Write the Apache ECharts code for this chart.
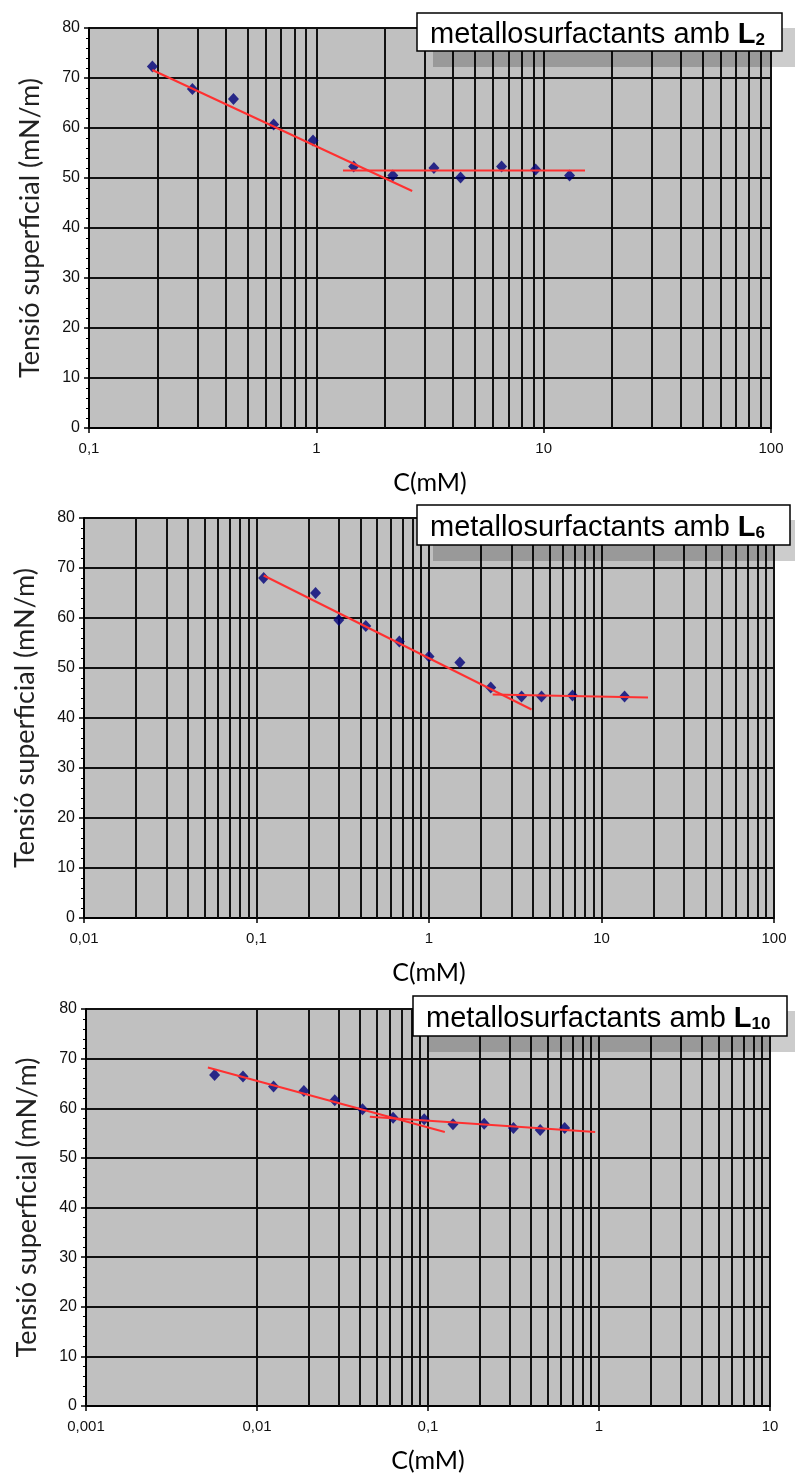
<!DOCTYPE html>
<html>
<head>
<meta charset="utf-8">
<script src="https://cdn.jsdelivr.net/npm/echarts@6/dist/echarts.min.js"></script>
<style>
  html, body { margin: 0; padding: 0; background: #ffffff; }
  #chart { width: 795px; height: 1474px; }
</style>
</head>
<body>
<div id="chart"></div>
<script>
// Surface tension vs. concentration for three metallosurfactant series

// --- L2 ---
const concL2 = [0.19, 0.285, 0.432, 0.649, 0.967, 1.46, 2.17, 3.29, 4.31, 6.53, 9.22, 13.0];
const tensL2 = [72.3, 67.8, 65.8, 60.7, 57.5, 52.3, 50.5, 52.0, 50.1, 52.3, 51.7, 50.5];
const fitL2Slope = [[0.19, 71.6], [2.64, 47.4]];
const fitL2Flat = [[1.31, 51.5], [15.2, 51.5]];
const xTicksL2 = ['0,1', '1', '10', '100'];

// --- L6 ---
const concL6 = [0.11, 0.22, 0.30, 0.43, 0.673, 1.0, 1.51, 2.28, 3.44, 4.49, 6.79, 13.6];
const tensL6 = [68.0, 65.0, 59.6, 58.4, 55.3, 52.3, 51.1, 46.1, 44.3, 44.3, 44.5, 44.3];
const fitL6Slope = [[0.11, 68.5], [3.93, 41.7]];
const fitL6Flat = [[2.34, 44.7], [18.6, 44.1]];
const xTicksL6 = ['0,01', '0,1', '1', '10', '100'];

// --- L10 ---
const concL10 = [0.00565, 0.00828, 0.0125, 0.0188, 0.0285, 0.0414, 0.0625, 0.095, 0.140, 0.213, 0.316, 0.453, 0.63];
const tensL10 = [66.7, 66.4, 64.4, 63.5, 61.6, 59.8, 58.1, 57.8, 56.8, 56.9, 56.0, 55.6, 56.0];
const fitL10Slope = [[0.00516, 68.2], [0.1254, 55.2]];
const fitL10Flat = [[0.0457, 58.3], [0.95, 55.2]];
const xTicksL10 = ['0,001', '0,01', '0,1', '1', '10'];

const yTicks = ['0', '10', '20', '30', '40', '50', '60', '70', '80'];
const panelTitles = ['2', '6', '10'];

const panels = [
  { conc: concL2, tens: tensL2, fits: [fitL2Slope, fitL2Flat], ticks: xTicksL2, min: 0.1, max: 100,
    grid: { left: 89, top: 28, width: 682, height: 400 },
    box: { x: 417, y: 13, w: 365, h: 38 } },
  { conc: concL6, tens: tensL6, fits: [fitL6Slope, fitL6Flat], ticks: xTicksL6, min: 0.01, max: 100,
    grid: { left: 84, top: 518, width: 690, height: 400 },
    box: { x: 417, y: 505, w: 373, h: 40 } },
  { conc: concL10, tens: tensL10, fits: [fitL10Slope, fitL10Flat], ticks: xTicksL10, min: 0.001, max: 10,
    grid: { left: 86, top: 1009, width: 684, height: 403 },
    box: { x: 413, y: 996, w: 374, h: 40 } }
];

// vertical log grid positions: 1..9 times each decade
function logGridValues(min, max) {
  const out = [];
  for (let d = Math.round(Math.log10(min)); d < Math.round(Math.log10(max)); d++) {
    for (let k = 1; k <= 9; k++) {
      const v = k * Math.pow(10, d);
      if (v > min * 1.0001) out.push(+v.toPrecision(6));
    }
  }
  out.push(max);
  return out;
}

const grids = [], xAxes = [], yAxes = [], series = [], graphics = [];
const lineColor = '#111111';

panels.forEach((p, i) => {
  grids.push(Object.assign({ show: true, backgroundColor: '#c0c0c0', borderWidth: 0 }, p.grid));

  xAxes.push({
    type: 'log', logBase: 10, gridIndex: i, min: p.min, max: p.max,
    splitNumber: p.ticks.length - 1,
    name: 'C(mM)', nameLocation: 'middle', nameGap: 42,
    nameTextStyle: { fontFamily: 'Lato', fontSize: 25, color: '#000' },
    axisLine: { show: true, onZero: false, lineStyle: { color: '#000', width: 2 } },
    axisTick: { show: true, length: 5, lineStyle: { color: '#000', width: 1.5 } },
    splitLine: { show: false },
    axisLabel: {
      fontFamily: 'Liberation Sans', fontSize: 15, color: '#111', margin: 13,
      showMinLabel: true, showMaxLabel: true,
      formatter: (v) => p.ticks[Math.round(Math.log10(v) - Math.log10(p.min))] || ''
    }
  });

  yAxes.push({
    type: 'value', gridIndex: i, min: 0, max: 80, interval: 10,
    name: 'Tensió superficial (mN/m)', nameLocation: 'middle', nameGap: 45,
    nameTextStyle: { fontFamily: 'Lato', fontSize: 27, color: '#222' },
    axisLine: { show: true, lineStyle: { color: '#000', width: 2 } },
    axisTick: { show: true, length: 5, lineStyle: { color: '#000', width: 1.5 } },
    minorTick: { show: true, splitNumber: 5, length: 3, lineStyle: { color: '#000', width: 1 } },
    splitLine: { show: true, lineStyle: { color: lineColor, width: 2 } },
    axisLabel: {
      fontFamily: 'Liberation Sans', fontSize: 16, color: '#111', margin: 9,
      formatter: (v) => yTicks[Math.round(v / 10)]
    }
  });

  series.push({
    type: 'scatter', xAxisIndex: i, yAxisIndex: i, z: 3,
    symbol: 'diamond', symbolSize: [11, 12],
    itemStyle: { color: '#000078' },
    data: p.conc.map((c, j) => [c, p.tens[j]]),
    markLine: {
      silent: true, z: 1, symbol: ['none', 'none'], animation: false,
      label: { show: false },
      lineStyle: { color: lineColor, width: 2, type: 'solid' },
      data: logGridValues(p.min, p.max).map(v => ({ xAxis: v }))
    }
  });

  p.fits.forEach(f => {
    series.push({
      type: 'line', xAxisIndex: i, yAxisIndex: i, z: 4,
      showSymbol: false, symbol: 'none',
      lineStyle: { color: '#ff3030', width: 2 },
      data: f
    });
  });

  // caption box with drop shadow
  const b = p.box;
  graphics.push({
    type: 'rect', z: 100,
    shape: { x: b.x + 16, y: b.y + 15, width: 795 - (b.x + 16), height: b.h + 1 },
    style: { fill: 'rgba(0,0,0,0.2)' }
  });
  graphics.push({
    type: 'rect', z: 101,
    shape: { x: b.x, y: b.y, width: b.w, height: b.h },
    style: { fill: '#ffffff', stroke: '#000', lineWidth: 1.5 }
  });
  graphics.push({
    type: 'text', z: 102,
    x: b.x + 13, y: b.y + b.h / 2 + 1,
    style: {
      text: '{n|metallosurfactants amb }{b|L}{s|' + panelTitles[i] + '}',
      verticalAlign: 'middle',
      rich: {
        n: { fontFamily: 'Liberation Sans', fontSize: 29, lineHeight: 32, fill: '#000', verticalAlign: 'bottom' },
        b: { fontFamily: 'Liberation Sans', fontSize: 29, fontWeight: 'bold', lineHeight: 32, fill: '#000', verticalAlign: 'bottom' },
        s: { fontFamily: 'Liberation Sans', fontSize: 17, fontWeight: 'bold', lineHeight: 19, fill: '#000', verticalAlign: 'bottom' }
      }
    }
  });
});

const chart = echarts.init(document.getElementById('chart'), null, { renderer: 'canvas' });
chart.setOption({
  backgroundColor: '#ffffff',
  animation: false,
  grid: grids,
  xAxis: xAxes,
  yAxis: yAxes,
  series: series,
  graphic: graphics
});
</script>
</body>
</html>
